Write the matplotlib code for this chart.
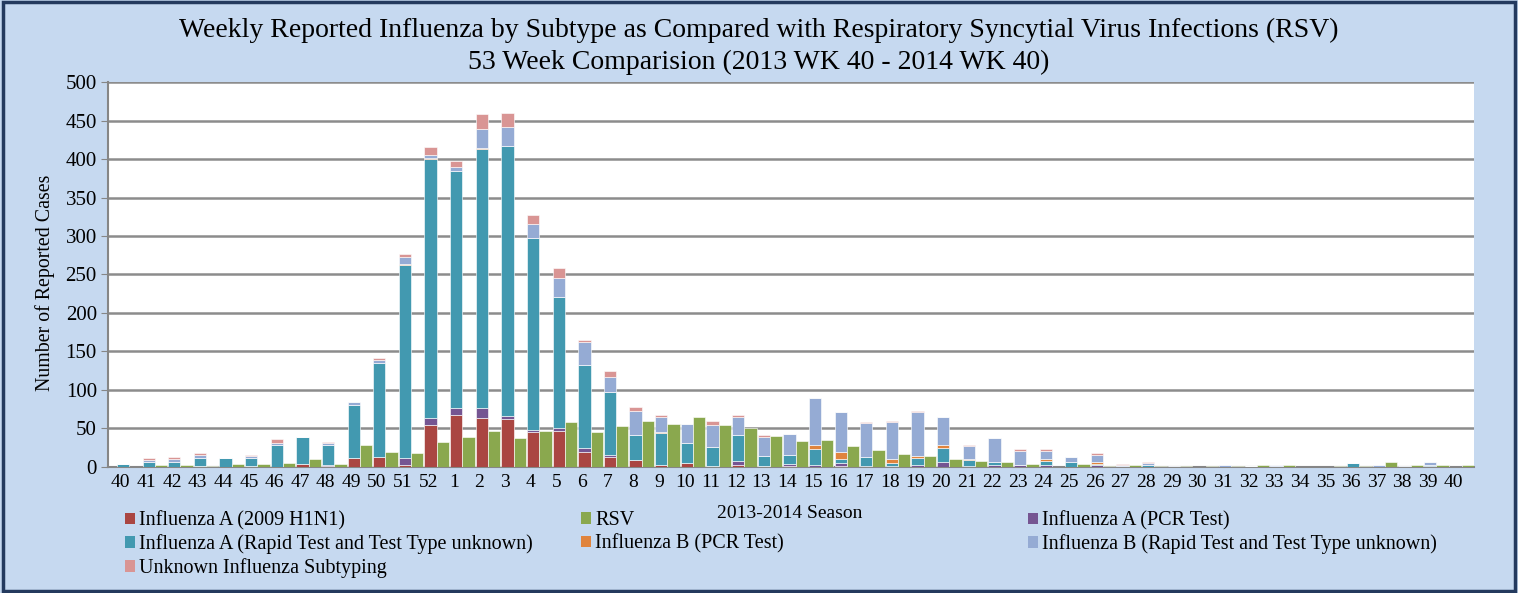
import numpy as np
import matplotlib
matplotlib.use('Agg')
from matplotlib import pyplot as plt
from matplotlib.patches import Rectangle, Patch

weeks = ['40', '41', '42', '43', '44', '45', '46', '47', '48', '49', '50', '51', '52',
         '1', '2', '3', '4', '5', '6', '7', '8', '9', '10', '11', '12', '13', '14', '15',
         '16', '17', '18', '19', '20', '21', '22', '23', '24', '25', '26', '27', '28', '29',
         '30', '31', '32', '33', '34', '35', '36', '37', '38', '39', '40']

h1n1 = [0, 0, 0, 1, 0, 1, 0, 4, 1, 12, 13, 3, 54,
        67, 64, 62, 45, 47, 20, 13, 9, 3, 5, 1, 2, 1, 1, 0,
        1, 0, 0, 0, 0, 0, 0, 0, 0, 0, 0, 0, 0, 0,
        0, 0, 0, 0, 0, 0, 0, 0, 0, 0, 0]
a_pcr = [0, 0, 0, 0, 0, 0, 0, 0, 1, 0, 0, 9, 9,
         10, 12, 4, 3, 3, 5, 2, 0, 0, 0, 0, 6, 0, 3, 3,
         4, 1, 1, 2, 7, 1, 2, 2, 3, 0, 2, 0, 0, 0,
         0, 0, 0, 0, 0, 0, 0, 0, 0, 1, 0]
a_rapid = [4, 6, 7, 11, 12, 11, 28, 35, 27, 69, 122, 250, 337,
           307, 337, 351, 250, 171, 107, 83, 33, 41, 26, 25, 34, 13, 12, 21,
           5, 12, 4, 10, 18, 8, 4, 0, 5, 6, 2, 1, 3, 0,
           0, 0, 1, 1, 0, 0, 5, 0, 0, 2, 0]
b_pcr = [0, 0, 0, 0, 0, 0, 0, 0, 0, 0, 0, 2, 1,
         0, 1, 0, 0, 0, 0, 0, 0, 2, 0, 0, 0, 0, 0, 4,
         9, 0, 5, 2, 3, 1, 0, 0, 2, 0, 3, 0, 0, 0,
         0, 0, 0, 0, 0, 0, 0, 0, 0, 0, 0]
b_rapid = [0, 3, 3, 3, 0, 2, 3, 0, 2, 3, 4, 9, 4,
           5, 25, 25, 18, 24, 30, 19, 31, 19, 25, 28, 23, 25, 27, 61,
           52, 44, 49, 57, 37, 17, 32, 19, 11, 7, 9, 2, 2, 1,
           0, 3, 0, 2, 0, 0, 0, 3, 1, 4, 0]
unknown = [0, 3, 3, 3, 0, 2, 5, 0, 2, 1, 3, 3, 11,
           9, 19, 18, 11, 14, 3, 8, 5, 2, 0, 6, 2, 2, 0, 0,
           0, 2, 1, 2, 0, 1, 0, 2, 2, 0, 2, 1, 1, 0,
           0, 0, 0, 0, 0, 0, 0, 0, 0, 0, 0]
rsv = [0, 2, 3, 1, 4, 4, 5, 10, 4, 29, 19, 18, 33,
       39, 47, 38, 47, 58, 45, 53, 60, 56, 65, 54, 51, 40, 34, 35,
       27, 22, 17, 14, 10, 8, 7, 4, 0, 4, 1, 3, 1, 1,
       1, 1, 3, 2, 0, 1, 1, 6, 2, 3, 2]

plt.rcParams['font.family'] = 'Liberation Serif'

fig = plt.figure(figsize=(15.18, 5.93), dpi=100, facecolor='#c6d9f0')
ax = fig.add_axes([0.0711, 0.2125, 0.8999, 0.6492])
ax.set_facecolor('white')

flu = [
    (h1n1, '#aa4642', 'Influenza A (2009 H1N1)'),
    (a_pcr, '#755592', 'Influenza A (PCR Test)'),
    (a_rapid, '#4299b0', 'Influenza A (Rapid Test and Test Type unknown)'),
    (b_pcr, '#e0843d', 'Influenza B (PCR Test)'),
    (b_rapid, '#95abd4', 'Influenza B (Rapid Test and Test Type unknown)'),
    (unknown, '#d99594', 'Unknown Influenza Subtyping'),
]
rsv_color = '#8aa84e'

x = np.arange(len(weeks))
bottom = np.zeros(len(weeks))
for vals, color, name in flu:
    vals = np.array(vals)
    ax.bar(x + 0.09, vals, 0.48, bottom=bottom, color=color,
           edgecolor=(1, 1, 1, 0.6), linewidth=0.7, zorder=3)
    bottom += vals
ax.bar(x + 0.57, rsv, 0.48, color=rsv_color, edgecolor=(1, 1, 1, 0.6),
       linewidth=0.7, zorder=3)

ax.set_xlim(-0.5, 52.8)
ax.set_ylim(0, 500)
ax.set_yticks(range(0, 501, 50))
ax.set_xticks(x)
ax.set_xticklabels(weeks)
ax.yaxis.grid(True, color='#8c8c8c', linewidth=1.8)
ax.set_axisbelow(True)
for s in ['top', 'right']:
    ax.spines[s].set_visible(False)
ax.spines['left'].set_color('#868686')
ax.spines['bottom'].set_color('#868686')
ax.spines['left'].set_linewidth(1.5)
ax.spines['bottom'].set_linewidth(1.5)
ax.tick_params(axis='x', length=0, labelsize=14, pad=5)
ax.tick_params(axis='y', length=5, color='#868686', labelsize=15, pad=3)

fig.text(0.5, 1 - 30 / 593, 'Weekly Reported Influenza by Subtype as Compared with Respiratory Syncytial Virus Infections (RSV)',
         ha='center', va='center', fontsize=20)
fig.text(0.5, 1 - 62 / 593, '53 Week Comparision (2013 WK 40 - 2014 WK 40)',
         ha='center', va='center', fontsize=20)
fig.text(45 / 1518, 1 - 283 / 593, 'Number of Reported Cases', rotation=90,
         ha='center', va='center', fontsize=14.3)
fig.text(790 / 1518, 1 - 513 / 593, '2013-2014 Season', ha='center', va='center', fontsize=14)

# legend columns laid out like the original: row-major order across 3 columns
col_x = [125, 581, 1028]
col_items = [
    [(flu[0][1], flu[0][2]), (flu[2][1], flu[2][2]), (flu[5][1], flu[5][2])],
    [(rsv_color, 'RSV'), (flu[3][1], flu[3][2])],
    [(flu[1][1], flu[1][2]), (flu[4][1], flu[4][2])],
]
for xpos, items in zip(col_x, col_items):
    handles = [Patch(facecolor=c, edgecolor='none') for c, _ in items]
    labels = [n for _, n in items]
    fig.legend(handles, labels, loc='upper left',
               bbox_to_anchor=(xpos / 1518, 1 - 511 / 593), frameon=False,
               fontsize=14.5, handlelength=0.5, handleheight=0.5,
               handletextpad=0.2, labelspacing=0.2, borderpad=0, borderaxespad=0)

fig.patches.append(Rectangle((0.002, 0.003), 0.996, 0.994, transform=fig.transFigure,
                             fill=False, edgecolor='#243a5e', linewidth=2.5))

fig.savefig('out.png', dpi=100, facecolor=fig.get_facecolor())
